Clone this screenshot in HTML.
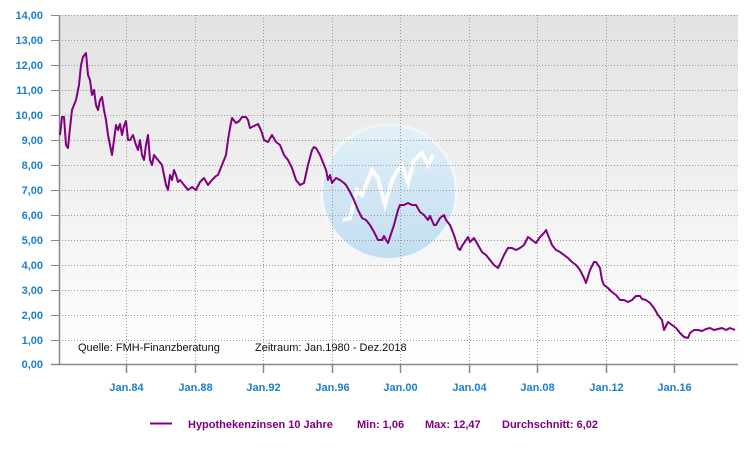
<!DOCTYPE html>
<html><head><meta charset="utf-8"><style>
body{margin:0;background:#fff;width:748px;height:455px;overflow:hidden}
svg text{font-family:"Liberation Sans",Arial,sans-serif}
</style></head><body>
<svg width="748" height="455" viewBox="0 0 748 455" xmlns="http://www.w3.org/2000/svg">
<defs>
<linearGradient id="bg" x1="0" y1="0" x2="0" y2="1">
<stop offset="0" stop-color="#e2e2e2"/><stop offset="1" stop-color="#ffffff"/>
</linearGradient>
<linearGradient id="cg" x1="0" y1="0" x2="0" y2="1">
<stop offset="0" stop-color="#e2f0f8"/><stop offset="1" stop-color="#c2def0"/>
</linearGradient>
</defs>
<rect x="59" y="15" width="679" height="349" fill="url(#bg)"/>
<circle cx="389" cy="192" r="69" fill="#f4f8fb" opacity="0.8"/>
<circle cx="389" cy="192" r="66" fill="url(#cg)"/>
<polyline points="343,220 350,218 357,190 362,195 372,170 378,178 385,205 392,180 398,170 402,165 408,183 414,160 422,153 428,165 433,155" fill="none" stroke="#fff" stroke-width="4" opacity="0.9"/>
<g stroke="#999" stroke-width="1" stroke-dasharray="1,2">
<line x1="59" y1="15.5" x2="738" y2="15.5"/><line x1="59" y1="40.5" x2="738" y2="40.5"/><line x1="59" y1="65.5" x2="738" y2="65.5"/><line x1="59" y1="90.5" x2="738" y2="90.5"/><line x1="59" y1="115.5" x2="738" y2="115.5"/><line x1="59" y1="140.5" x2="738" y2="140.5"/><line x1="59" y1="165.5" x2="738" y2="165.5"/><line x1="59" y1="190.5" x2="738" y2="190.5"/><line x1="59" y1="215.5" x2="738" y2="215.5"/><line x1="59" y1="240.5" x2="738" y2="240.5"/><line x1="59" y1="265.5" x2="738" y2="265.5"/><line x1="59" y1="290.5" x2="738" y2="290.5"/><line x1="59" y1="315.5" x2="738" y2="315.5"/><line x1="59" y1="340.5" x2="738" y2="340.5"/>
<line x1="126.5" y1="15" x2="126.5" y2="364"/><line x1="195.5" y1="15" x2="195.5" y2="364"/><line x1="263.5" y1="15" x2="263.5" y2="364"/><line x1="332.5" y1="15" x2="332.5" y2="364"/><line x1="400.5" y1="15" x2="400.5" y2="364"/><line x1="469.5" y1="15" x2="469.5" y2="364"/><line x1="537.5" y1="15" x2="537.5" y2="364"/><line x1="606.5" y1="15" x2="606.5" y2="364"/><line x1="674.5" y1="15" x2="674.5" y2="364"/>
</g>
<g stroke="#888" stroke-width="1.5" fill="none">
<line x1="59.5" y1="15" x2="59.5" y2="365"/><line x1="51" y1="364.5" x2="738" y2="364.5"/>
<line x1="126.5" y1="364" x2="126.5" y2="373"/><line x1="195.5" y1="364" x2="195.5" y2="373"/><line x1="263.5" y1="364" x2="263.5" y2="373"/><line x1="332.5" y1="364" x2="332.5" y2="373"/><line x1="400.5" y1="364" x2="400.5" y2="373"/><line x1="469.5" y1="364" x2="469.5" y2="373"/><line x1="537.5" y1="364" x2="537.5" y2="373"/><line x1="606.5" y1="364" x2="606.5" y2="373"/><line x1="674.5" y1="364" x2="674.5" y2="373"/>
</g>
<g stroke="#888" stroke-width="1"><line x1="51" y1="15.5" x2="59" y2="15.5"/><line x1="51" y1="40.5" x2="59" y2="40.5"/><line x1="51" y1="65.5" x2="59" y2="65.5"/><line x1="51" y1="90.5" x2="59" y2="90.5"/><line x1="51" y1="115.5" x2="59" y2="115.5"/><line x1="51" y1="140.5" x2="59" y2="140.5"/><line x1="51" y1="165.5" x2="59" y2="165.5"/><line x1="51" y1="190.5" x2="59" y2="190.5"/><line x1="51" y1="215.5" x2="59" y2="215.5"/><line x1="51" y1="240.5" x2="59" y2="240.5"/><line x1="51" y1="265.5" x2="59" y2="265.5"/><line x1="51" y1="290.5" x2="59" y2="290.5"/><line x1="51" y1="315.5" x2="59" y2="315.5"/><line x1="51" y1="340.5" x2="59" y2="340.5"/></g>
<g fill="#1a7fd0" font-size="11" font-weight="bold" text-anchor="end">
<text x="43" y="19">14,00</text><text x="43" y="44">13,00</text><text x="43" y="69">12,00</text><text x="43" y="94">11,00</text><text x="43" y="119">10,00</text><text x="43" y="144">9,00</text><text x="43" y="169">8,00</text><text x="43" y="194">7,00</text><text x="43" y="219">6,00</text><text x="43" y="244">5,00</text><text x="43" y="269">4,00</text><text x="43" y="294">3,00</text><text x="43" y="319">2,00</text><text x="43" y="344">1,00</text><text x="43" y="368">0,00</text>
</g>
<g fill="#1a7fd0" font-size="11" font-weight="bold" text-anchor="middle">
<text x="126.5" y="391">Jan.84</text><text x="195.5" y="391">Jan.88</text><text x="263.5" y="391">Jan.92</text><text x="332.5" y="391">Jan.96</text><text x="400.5" y="391">Jan.00</text><text x="469.5" y="391">Jan.04</text><text x="537.5" y="391">Jan.08</text><text x="606.5" y="391">Jan.12</text><text x="674.5" y="391">Jan.16</text>
</g>
<g fill="#111" font-size="11">
<text x="78" y="351">Quelle: FMH-Finanzberatung</text><text x="255" y="351">Zeitraum: Jan.1980 - Dez.2018</text>
</g>
<polyline fill="none" stroke="#800080" stroke-width="2" stroke-linejoin="round" points="60,135 62,117 64,117 66,145 68,148 70,128 72,110 74,105 76,100 79,85 81,65 83,57 86,53 88,75 90,80 92,95 94,90 96,105 98,110 100,100 102,97 104,110 106,120 108,135 110,145 112,155 114,140 116,125 118,130 120,124 122,135 124,126 126,121 128,140 130,140 133,135 136,145 138,150 140,140 142,155 144,160 146,145 148,135 150,160 152,165 154,155 158,160 162,165 166,185 168,190 170,175 172,180 174,170 176,175 178,182 180,180 184,185 188,190 192,187 196,190 200,182 204,178 208,185 212,180 216,176 218,175 222,165 226,155 228,140 230,128 232,118 236,123 238,122 240,120 242,117 246,117 248,120 250,128 254,126 258,124 260,128 262,133 264,140 268,142 272,135 276,142 280,145 284,155 288,160 292,168 296,180 300,185 304,183 308,165 312,150 314,147 316,148 320,155 324,165 326,170 328,180 330,175 332,183 336,178 340,180 344,183 346,185 350,192 354,200 358,210 362,218 366,220 370,225 374,232 378,240 382,240 384,236 386,240 388,243 390,237 394,225 398,210 400,205 404,205 408,203 412,205 416,205 420,212 424,215 428,220 430,216 434,225 436,225 440,218 444,215 446,220 450,225 454,235 458,248 460,250 462,246 466,240 468,237 470,242 474,238 478,245 482,252 486,255 490,260 494,265 498,268 500,264 504,255 508,248 512,248 516,250 520,248 524,245 528,237 532,240 536,243 540,237 544,233 546,230 548,235 552,245 556,250 560,252 564,255 568,258 572,262 576,265 580,270 584,278 586,283 590,270 594,262 596,262 600,268 602,280 604,285 608,288 612,292 616,295 620,300 624,300 628,302 632,300 636,296 640,296 642,299 646,300 650,303 654,308 658,315 662,320 664,330 666,326 668,322 672,325 676,328 680,333 684,337 688,338 690,333 694,330 698,330 702,331 706,329 710,328 714,330 718,329 722,328 726,330 730,328 735,330"/>
<line x1="150" y1="423.5" x2="172" y2="423.5" stroke="#800080" stroke-width="2"/>
<g fill="#800080" font-size="11" font-weight="bold">
<text x="188" y="428">Hypothekenzinsen 10 Jahre</text><text x="357" y="428">Min: 1,06</text><text x="425" y="428">Max: 12,47</text><text x="502" y="428">Durchschnitt: 6,02</text>
</g>
</svg>
</body></html>
